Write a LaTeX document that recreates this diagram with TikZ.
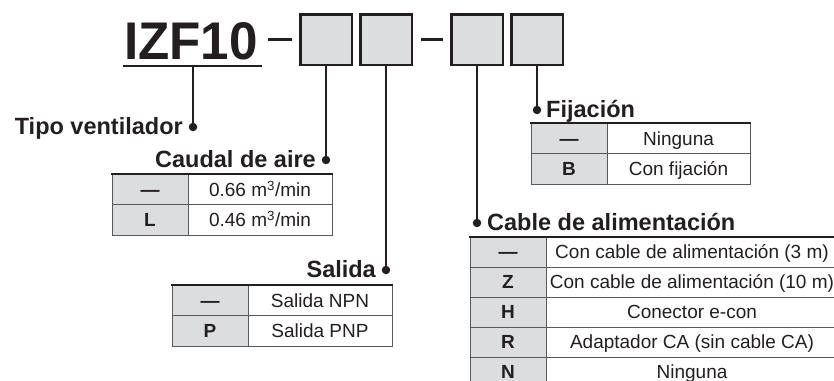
\documentclass[tikz,border=0pt]{standalone}
\usepackage{fontspec}
\setmainfont{Liberation Sans}
\definecolor{ink}{HTML}{231F20}
\definecolor{cellgray}{HTML}{DCDDDF}
\definecolor{rulegray}{HTML}{58595B}
\begin{document}
\begin{tikzpicture}[x=1pt,y=-1pt,
  codebox/.style={draw=ink, line width=2.5pt, fill=cellgray, minimum width=51.5pt, minimum height=50.5pt, inner sep=0pt, outer sep=0pt},
  lead/.style={draw=ink, line width=1.8pt},
  dotmark/.style={circle, fill=ink, inner sep=0pt, minimum size=8.5pt},
  label/.style={font=\fontsize{23.5}{24}\selectfont\bfseries, text=ink, inner sep=0pt},
  cell/.style={font=\fontsize{19}{20}\selectfont, text=ink, inner sep=0pt, text height=13.6pt, text depth=0pt},
  keycell/.style={cell, font=\fontsize{19}{20}\selectfont\bfseries},
  tabrule/.style={draw=rulegray, line width=1pt},
  tabtop/.style={draw=ink, line width=2pt},
  hyph/.style={draw=ink, line width=3pt}
]
\useasboundingbox[fill=white] (0,0) rectangle (834,380);

% part number
\node[anchor=base west, inner sep=0pt, text=ink, font=\fontsize{53}{53}\selectfont\bfseries] (title) at (124,59) {\scalebox{0.965}[1]{IZF10}};
\draw[ink, line width=2pt] (123,66) -- (262,66);
\coordinate (ul) at (193,66);
\draw[hyph] (268,39) -- (292,39);
\draw[hyph] (421,39) -- (443,39);
\node[codebox] (b1) at (326,39.5) {};
\node[codebox] (b2) at (386,39.5) {};
\node[codebox] (b3) at (477,39.5) {};
\node[codebox] (b4) at (537,39.5) {};

% Tipo ventilador
\node[dotmark] (d0) at (193,127) {};
\draw[lead] (ul) -- (d0);
\node[label, anchor=base east] (t0) at (183,134.5) {Tipo ventilador};

% Caudal de aire
\node[dotmark] (d1) at (326,160) {};
\draw[lead] (b1.south) -- (d1);
\node[label, anchor=base east] (t1) at (316,167.5) {Caudal de aire};
\fill[cellgray] (112,174) rectangle (188,235);
\draw[tabrule] (112,174) rectangle (332,235) (188,174) -- (188,235) (112,204.5) -- (332,204.5);
\draw[tabtop] (111,174) -- (333,174);
\node[keycell] (k11) at (150,189.5) {—};
\node[cell] (v11) at (260,189.5) {0.66 m\textsuperscript{3}/min};
\node[keycell] (k12) at (150,220) {L};
\node[cell] (v12) at (260,220) {0.46 m\textsuperscript{3}/min};

% Salida
\node[dotmark] (d2) at (386,270) {};
\draw[lead] (b2.south) -- (d2);
\node[label, anchor=base east] (t2) at (376,277.5) {Salida};
\fill[cellgray] (172,285) rectangle (248,346);
\draw[tabrule] (172,285) rectangle (392,346) (248,285) -- (248,346) (172,315.5) -- (392,315.5);
\draw[tabtop] (171,285) -- (393,285);
\node[keycell] (k21) at (210,300.5) {—};
\node[cell] (v21) at (320,300.5) {Salida NPN};
\node[keycell] (k22) at (210,331) {P};
\node[cell] (v22) at (320,331) {Salida PNP};

% Fijacion
\node[dotmark] (d4) at (537,110) {};
\draw[lead] (b4.south) -- (d4);
\node[label, anchor=base west] (t4) at (546,117.5) {Fijación};
\fill[cellgray] (531,123) rectangle (607,184);
\draw[tabrule] (531,123) rectangle (750,184) (607,123) -- (607,184) (531,153.5) -- (750,153.5);
\draw[tabtop] (530,123) -- (751,123);
\node[keycell] (k41) at (569,138.5) {—};
\node[cell] (v41) at (678.5,138.5) {Ninguna};
\node[keycell] (k42) at (569,169) {B};
\node[cell] (v42) at (678.5,169) {Con fijación};

% Cable de alimentacion
\node[dotmark] (d3) at (477,223) {};
\draw[lead] (b3.south) -- (d3);
\node[label, anchor=base west] (t3) at (487,230.5) {Cable de alimentación};
\fill[cellgray] (470,237) rectangle (546,390);
\draw[tabrule] (470,237) -- (470,390) (546,237) -- (546,390) (838,237) -- (838,390);
\foreach \yy in {267,297,327,357} \draw[tabrule] (470,\yy) -- (840,\yy);
\draw[tabtop] (469,237) -- (840,237);
\node[keycell] (k31) at (508,252) {—};
\node[cell] (v31) at (692,252) {Con cable de alimentación (3 m)};
\node[keycell] (k32) at (508,282) {Z};
\node[cell] (v32) at (692,282) {Con cable de alimentación (10 m)};
\node[keycell] (k33) at (508,312) {H};
\node[cell] (v33) at (692,312) {Conector e-con};
\node[keycell] (k34) at (508,342) {R};
\node[cell] (v34) at (692,342) {Adaptador CA (sin cable CA)};
\node[keycell] (k35) at (508,372) {N};
\node[cell] (v35) at (692,372) {Ninguna};
\end{tikzpicture}
\end{document}
